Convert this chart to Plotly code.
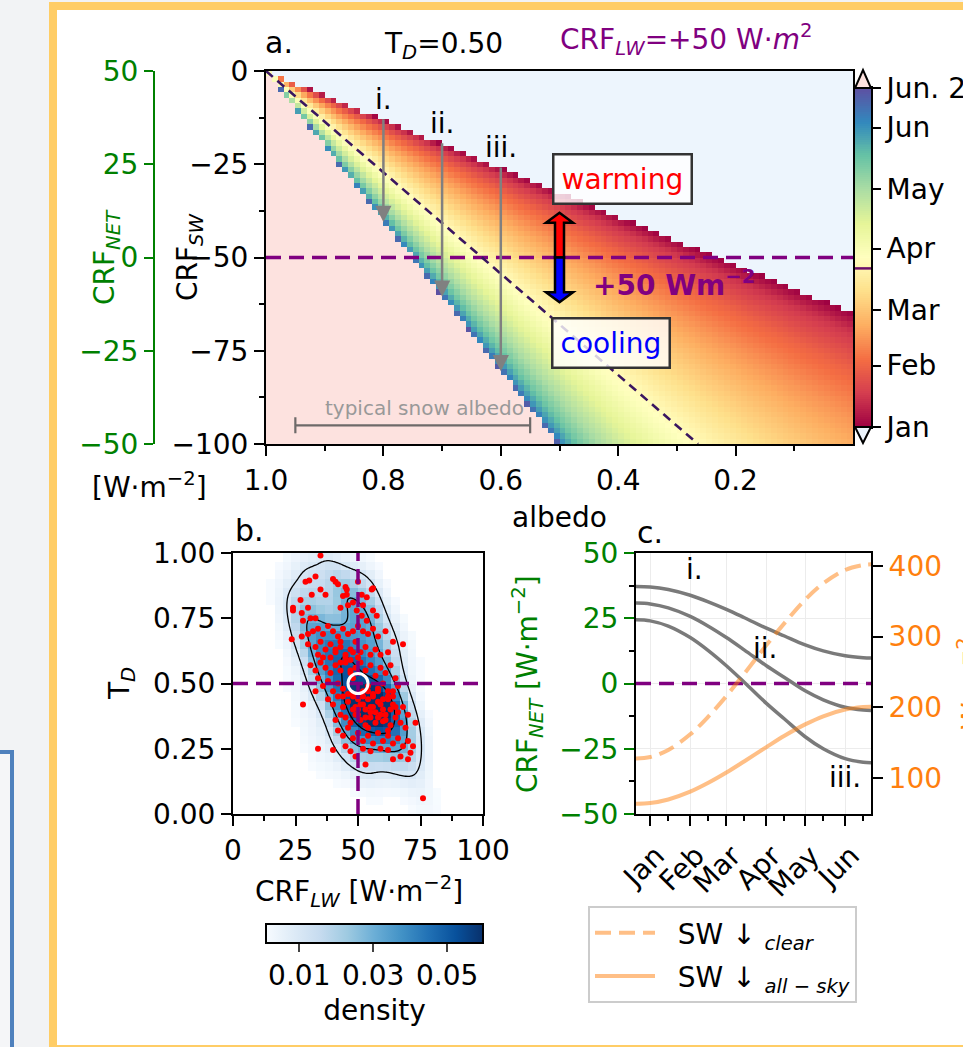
import numpy as np
import plotly.graph_objects as go

W, H = 963, 1047
FONT = "DejaVu Sans"
FS = 28


def fx(p):
    return p / W


def fy(p):
    return 1 - p / H


# ------------------------------------------------------------------ data
T_D = 0.50
CRF_LW = 50.0

# panel c : day of year (Dec 21 = -11 ... Jun 21 = 171)
DAYS = [-11, 0, 14, 31, 45, 59, 73, 90, 104, 120, 134, 151, 165, 171]
SW_CLEAR = [128, 130, 140, 162, 187, 216, 248, 288, 319, 352, 375, 394, 401, 402]
SW_ALLSKY = [64, 65, 70, 81, 93.5, 108, 124, 144, 160, 176, 187.5, 197, 200.5, 201]

MONTHS = ["Jan", "Feb", "Mar", "Apr", "May", "Jun"]
MONTH_START = [0, 31, 59, 90, 120, 151]
MONTH_MID = [14, 45, 73, 104, 134, 165]
CB_LABELS = ["Jan", "Feb", "Mar", "Apr", "May", "Jun", "Jun. 21"]
CB_DAYS = [0, 31, 59, 90, 120, 151, 171]
MARKED_DAY = 80

CASE_LABELS = ["i.", "ii.", "iii."]
CASE_ALBEDO = [0.8, 0.7, 0.6]
ARROW_START = [-12.5, -19.0, -25.5]
ARROW_END = [-40.5, -60.5, -80.5]
CASE_LABEL_DAY = [34, 89, 151]
CASE_LABEL_NET = [43.5, 13.6, -36.2]

ZERO_LINE_ALBEDO = [1.0, 0.264]
ZERO_LINE_CRF = [0.0, -100.0]
SNOW_ALBEDO = [0.55, 0.95]
SNOW_CRF = -95.0
FORCING_ALBEDO = 0.5
FORCING_TIPS = [-38.0, -62.0]

# panel b : individual samples (CRF_LW, T_D)
LW = [35, 29, 30.5, 33, 35, 31.5, 37, 24, 24, 27, 30, 27.5, 40, 41, 42, 45, 45.5, 50, 55.5, 56,
      51.5, 53.5, 45.5, 43, 46, 49.5, 56, 57.5, 51.5, 53.5, 28, 31, 33, 48, 44, 52,
      23.5, 27.5, 30, 32, 34, 36, 38, 40, 42, 44, 46, 48, 50, 52, 54, 56, 58, 61, 64, 30,
      33, 35, 37, 39, 41, 43, 45, 47, 49, 51, 53, 55, 57, 59, 62, 36, 34, 68,
      31, 33, 35, 37, 39, 41, 43, 45, 47, 49, 51, 53, 55, 57, 59, 61, 63, 65, 34, 36,
      38, 40, 42, 44, 46, 48, 52, 54, 56, 58, 60, 62, 64, 66, 33, 28,
      38, 40, 42, 44, 46, 48, 50, 52, 54, 56, 58, 60, 62, 64, 66, 68, 70, 45, 47, 49,
      51, 53, 55, 57, 59, 61, 63, 65, 67, 69, 43, 41, 50, 55, 60, 73,
      42, 44, 46, 48, 50, 52, 54, 56, 58, 60, 62, 64, 66, 68, 70, 72, 45, 47, 49, 52,
      55, 59, 62, 64, 67, 70, 71, 53, 40, 34, 76,
      48, 52, 56, 60, 53, 57, 61, 49, 53, 58,
      51, 55, 59, 63, 48, 47, 43, 45, 41, 43, 47, 54, 58, 62, 50,
      44, 54, 62, 65, 64, 48, 50, 39]
TD = [0.99, 0.89, 0.895, 0.91, 0.86, 0.84, 0.84, 0.79, 0.78, 0.82, 0.79, 0.77, 0.90, 0.89, 0.88, 0.87, 0.86, 0.89, 0.86, 0.865,
      0.84, 0.83, 0.84, 0.79, 0.80, 0.78, 0.78, 0.76, 0.76, 0.74, 0.74, 0.75, 0.75, 0.81, 0.835, 0.80,
      0.67, 0.68, 0.69, 0.70, 0.71, 0.69, 0.72, 0.70, 0.68, 0.71, 0.69, 0.70, 0.72, 0.70, 0.69, 0.71, 0.68, 0.70, 0.66, 0.65,
      0.64, 0.66, 0.63, 0.65, 0.62, 0.64, 0.61, 0.63, 0.66, 0.62, 0.64, 0.61, 0.63, 0.61, 0.62, 0.60, 0.61, 0.65,
      0.57, 0.55, 0.58, 0.56, 0.54, 0.57, 0.55, 0.58, 0.54, 0.56, 0.58, 0.55, 0.57, 0.53, 0.56, 0.54, 0.57, 0.52, 0.52, 0.49,
      0.51, 0.47, 0.50, 0.48, 0.46, 0.52, 0.47, 0.49, 0.46, 0.48, 0.50, 0.47, 0.45, 0.49, 0.47, 0.42,
      0.44, 0.42, 0.45, 0.41, 0.43, 0.40, 0.44, 0.42, 0.44, 0.41, 0.43, 0.40, 0.44, 0.42, 0.39, 0.41, 0.38, 0.37, 0.35, 0.38,
      0.36, 0.34, 0.37, 0.35, 0.38, 0.36, 0.34, 0.37, 0.35, 0.33, 0.38, 0.36, 0.40, 0.39, 0.355, 0.35,
      0.32, 0.30, 0.33, 0.29, 0.31, 0.28, 0.30, 0.27, 0.31, 0.28, 0.30, 0.27, 0.29, 0.26, 0.28, 0.26, 0.26, 0.24, 0.22, 0.25,
      0.24, 0.25, 0.245, 0.21, 0.22, 0.21, 0.235, 0.19, 0.245, 0.25, 0.06,
      0.45, 0.45, 0.45, 0.44, 0.40, 0.39, 0.38, 0.41, 0.37, 0.37,
      0.42, 0.41, 0.42, 0.40, 0.46, 0.55, 0.58, 0.60, 0.63, 0.66, 0.59, 0.47, 0.47, 0.45, 0.38,
      0.45, 0.33, 0.32, 0.41, 0.47, 0.62, 0.60, 0.60]

SPECTRAL = ["rgb(158,1,66)", "rgb(213,62,79)", "rgb(244,109,67)", "rgb(253,174,97)",
            "rgb(254,224,139)", "rgb(255,255,191)", "rgb(230,245,152)", "rgb(171,221,164)",
            "rgb(102,194,165)", "rgb(50,136,189)", "rgb(94,79,162)"]
UNDER = "rgb(237,245,253)"
OVER = "rgb(253,226,223)"
PURPLE = "#800080"
GREEN = "#008000"
ORANGE = "#ff7f0e"
ORANGE_A = "rgba(255,127,14,0.5)"

spec_scale = [[i / (len(SPECTRAL) - 1), c] for i, c in enumerate(SPECTRAL)]

# ------------------------------------------------ panel a field (derived)
alb = (np.arange(100) + 0.5) / 100
crf = -(np.arange(70) + 0.5) * 100 / 70
A_, C_ = np.meshgrid(alb, crf)
ratio = -C_ / ((1 - A_) * (1 - T_D))
sw_year = np.array(SW_CLEAR[1:], float)
day_year = np.array(DAYS[1:], float)
day_field = np.interp(ratio, sw_year, day_year)
in_band = (ratio >= sw_year[0]) & (ratio <= sw_year[-1])
z_main = np.where(in_band, day_field, np.nan)
z_bg = np.where(ratio < sw_year[0], 0.0, np.where(ratio > sw_year[-1], 1.0, np.nan))

# ------------------------------------------------ panel b density (KDE)
P = np.column_stack([LW, TD]).astype(float)
n = len(P)
cov = np.cov(P.T) * n ** (-1 / 3)
inv = np.linalg.inv(cov)
norm = 1 / (2 * np.pi * np.sqrt(np.linalg.det(cov))) / n


def kde(xs, ys):
    X, Y = np.meshgrid(xs, ys)
    G = np.stack([X.ravel(), Y.ravel()], 1)
    D = G[:, None, :] - P[None, :, :]
    q = np.einsum("gni,ij,gnj->gn", D, inv, D)
    return (np.exp(-0.5 * q).sum(1) * norm).reshape(X.shape)


hx = (np.arange(30) + 0.5) * 100 / 30
hy = (np.arange(30) + 0.5) / 30
dens = kde(hx, hy)
dens_plot = np.where(dens < 0.001, np.nan, dens)
cx = np.linspace(0, 100, 101)
cy = np.linspace(0, 1, 101)
dens_c = kde(cx, cy)

# ------------------------------------------------ panel c curves
crf_net = [[CRF_LW - (1 - a) * (c - s) for c, s in zip(SW_CLEAR, SW_ALLSKY)] for a in CASE_ALBEDO]

fig = go.Figure()
NOLEG = dict(showlegend=False)
TF = dict(family=FONT, size=FS, color="black")

# panel a
fig.add_trace(go.Heatmap(x=alb, y=crf, z=z_bg, colorscale=[[0, UNDER], [1, OVER]], zmin=0, zmax=1,
                         showscale=False, xaxis="x", yaxis="y", hoverinfo="skip", **NOLEG))
fig.add_trace(go.Heatmap(x=alb, y=crf, z=z_main, colorscale=spec_scale, zmin=0, zmax=171,
                         showscale=False, xaxis="x", yaxis="y", **NOLEG))
fig.add_trace(go.Scatter(x=[1, 0], y=[-CRF_LW, -CRF_LW], mode="lines",
                         line=dict(color=PURPLE, width=3.5, dash="15px,8px"),
                         xaxis="x", yaxis="y", **NOLEG))
fig.add_trace(go.Scatter(x=ZERO_LINE_ALBEDO, y=ZERO_LINE_CRF, mode="lines",
                         line=dict(color="#3a1660", width=2.6, dash="9px,6px"),
                         xaxis="x", yaxis="y", **NOLEG))
fig.add_trace(go.Scatter(x=[np.mean(SNOW_ALBEDO)], y=[SNOW_CRF], mode="markers",
                         marker=dict(size=1, color="rgba(0,0,0,0)"),
                         error_x=dict(type="data", array=[(SNOW_ALBEDO[1] - SNOW_ALBEDO[0]) / 2],
                                      color="rgba(85,85,85,0.85)", thickness=2.2, width=8),
                         xaxis="x", yaxis="y", **NOLEG))
fig.add_trace(go.Scatter(x=[None], y=[None], xaxis="x", yaxis="y2", **NOLEG))

# colour bar of panel a
cb_days = np.arange(171) + 0.5
fig.add_trace(go.Heatmap(x=[0.5], y=cb_days, z=cb_days.reshape(-1, 1), colorscale=spec_scale,
                         zmin=0, zmax=171, showscale=False, xaxis="x4", yaxis="y6", **NOLEG))

# panel b
fig.add_trace(go.Heatmap(x=hx, y=hy, z=dens_plot, colorscale="Blues", zmin=0.001, zmax=0.0597,
                         xaxis="x2", yaxis="y3", **NOLEG,
                         colorbar=dict(orientation="h", x=fx(266), xanchor="left", xref="paper",
                                       y=fy(924), yanchor="top", yref="paper",
                                       len=217, lenmode="pixels", thickness=19, thicknessmode="pixels",
                                       xpad=0, ypad=0, outlinewidth=2, outlinecolor="black",
                                       ticks="outside", ticklen=8, tickwidth=2,
                                       tickvals=[0.01, 0.03, 0.05], ticktext=["0.01", "0.03", "0.05"],
                                       tickfont=TF,
                                       title=dict(text="density", side="bottom", font=TF))))
fig.add_trace(go.Contour(x=cx, y=cy, z=dens_c, contours=dict(coloring="none", start=0.01, end=0.05, size=0.02),
                         line=dict(color="black", width=1.3), showscale=False, xaxis="x2", yaxis="y3",
                         hoverinfo="skip", **NOLEG))
fig.add_trace(go.Scatter(x=LW, y=TD, mode="markers", marker=dict(color="red", size=6),
                         xaxis="x2", yaxis="y3", **NOLEG))
fig.add_trace(go.Scatter(x=[CRF_LW, CRF_LW], y=[0, 1], mode="lines",
                         line=dict(color=PURPLE, width=3.5, dash="15px,8px"),
                         xaxis="x2", yaxis="y3", **NOLEG))
fig.add_trace(go.Scatter(x=[0, 100], y=[T_D, T_D], mode="lines",
                         line=dict(color=PURPLE, width=3.5, dash="15px,8px"),
                         xaxis="x2", yaxis="y3", **NOLEG))
fig.add_trace(go.Scatter(x=[CRF_LW], y=[T_D], mode="markers",
                         marker=dict(symbol="circle-open", size=20, color="white", line=dict(width=3)),
                         xaxis="x2", yaxis="y3", **NOLEG))

# panel c
fig.add_trace(go.Scatter(x=[DAYS[0], DAYS[-1]], y=[0, 0], mode="lines",
                         line=dict(color=PURPLE, width=3.5, dash="15px,8px"),
                         xaxis="x3", yaxis="y4", **NOLEG))
for curve in crf_net:
    fig.add_trace(go.Scatter(x=DAYS, y=curve, mode="lines", line=dict(color="#7a7a7a", width=3.5, shape="spline"),
                             xaxis="x3", yaxis="y4", **NOLEG))
fig.add_trace(go.Scatter(x=DAYS, y=SW_CLEAR, mode="lines", name="\u00a0\u00a0SW ↓ <sub><i>clear</i></sub>",
                         legendgroup="a",
                         line=dict(color=ORANGE_A, width=4, dash="16px,8px", shape="spline"),
                         xaxis="x3", yaxis="y5"))
fig.add_trace(go.Scatter(x=DAYS, y=SW_ALLSKY, mode="lines", name="\u00a0\u00a0SW ↓ <sub><i>all − sky</i></sub>",
                         legendgroup="b",
                         line=dict(color=ORANGE_A, width=4, shape="spline"),
                         xaxis="x3", yaxis="y5"))


def ax(**kw):
    base = dict(showline=True, linewidth=2, linecolor="black", ticks="outside", ticklen=10, tickwidth=2,
                tickcolor="black", showgrid=False, zeroline=False, automargin=False, tickfont=TF)
    base.update(kw)
    return base


def neg(v):
    return ("%g" % v).replace("-", "−")


minor = dict(ticks="outside", ticklen=5, tickwidth=2, tickcolor="black")
GF = dict(family=FONT, size=FS, color=GREEN)

layout = dict(
    width=W, height=H, margin=dict(l=0, r=0, t=0, b=0, pad=0, autoexpand=False),
    paper_bgcolor="#f2f3f5", plot_bgcolor="white",
    font=TF,
    xaxis=ax(domain=[fx(266), fx(853)], range=[1, 0], anchor="y", mirror=True,
             tickvals=[1.0, 0.8, 0.6, 0.4, 0.2], ticktext=["1.0", "0.8", "0.6", "0.4", "0.2"],
             minor=dict(tickvals=[0.9, 0.7, 0.5, 0.3, 0.1], **minor)),
    yaxis=ax(domain=[fy(444), fy(71)], range=[-100, 0], anchor="x", mirror=True,
             tickvals=[0, -25, -50, -75, -100], ticktext=[neg(v) for v in [0, -25, -50, -75, -100]],
             minor=dict(tickvals=[-12.5, -37.5, -62.5, -87.5], **minor)),
    yaxis2=ax(overlaying="y", anchor="free", position=fx(154), side="left", range=[-50, 50],
              linecolor=GREEN, tickcolor=GREEN, ticklen=9,
              tickvals=[50, 25, 0, -25, -50], ticktext=[neg(v) for v in [50, 25, 0, -25, -50]],
              tickfont=GF),
    xaxis2=ax(domain=[fx(233), fx(483)], range=[0, 100], anchor="y3", mirror=True,
              tickvals=[0, 25, 50, 75, 100], minor=dict(tickvals=[12.5, 37.5, 62.5, 87.5], **minor)),
    yaxis3=ax(domain=[fy(814), fy(553)], range=[0, 1], anchor="x2", mirror=True,
              tickvals=[0, 0.25, 0.5, 0.75, 1.0], ticktext=["0.00", "0.25", "0.50", "0.75", "1.00"]),
    xaxis3=ax(domain=[fx(636), fx(871)], range=[DAYS[0], DAYS[-1]], anchor="y4", mirror=True,
              tickvals=MONTH_START, ticktext=MONTHS, tickangle=-45, ticklabelshift=6, ticklabelstandoff=2,
              showgrid=True, gridcolor="#ececec", gridwidth=1,
              minor=dict(tickvals=MONTH_MID, **minor)),
    yaxis4=ax(domain=[fy(814), fy(553)], range=[-50, 50], anchor="x3", tickcolor=GREEN,
              tickvals=[50, 25, 0, -25, -50], ticktext=[neg(v) for v in [50, 25, 0, -25, -50]],
              tickfont=GF, showgrid=True, gridcolor="#ececec",
              minor=dict(tickvals=[37.5, 12.5, -12.5, -37.5], **minor)),
    yaxis5=ax(overlaying="y4", anchor="x3", side="right", range=[49.5, 418],
              tickvals=[100, 200, 300, 400], tickfont=dict(family=FONT, size=FS, color=ORANGE)),
    xaxis4=ax(domain=[fx(855), fx(871)], range=[0, 1], anchor="y6", mirror=True, ticks="",
              showticklabels=False),
    yaxis6=ax(domain=[fy(427), fy(88)], range=[0, 171], anchor="x4", side="right", mirror=True, ticklen=8,
              tickvals=CB_DAYS, ticktext=CB_LABELS),
    legend=dict(x=fx(588), y=fy(906), xanchor="left", yanchor="top", bgcolor="white",
                bordercolor="#cccccc", borderwidth=2, font=TF,
                tracegroupgap=4, itemwidth=60),
)
fig.update_layout(**layout)

# --------------------------------------------------------- page + shapes
shapes = [
    dict(type="rect", xref="paper", yref="paper", x0=fx(49), x1=fx(1100), y0=fy(2), y1=fy(1200),
         fillcolor="#ffcd66", line=dict(width=0), layer="below"),
    dict(type="rect", xref="paper", yref="paper", x0=fx(57), x1=fx(1100), y0=fy(10), y1=fy(1045),
         fillcolor="white", line=dict(width=0), layer="below"),
    dict(type="rect", xref="paper", yref="paper", x0=fx(-20), x1=fx(12), y0=fy(752), y1=fy(1200),
         fillcolor="#f5f6f8", line=dict(width=4, color="#4f81bd"), layer="below"),
    # colour-bar extension triangles
    dict(type="path", xref="paper", yref="paper",
         path=f"M{fx(855)},{fy(88)} L{fx(871)},{fy(88)} L{fx(863)},{fy(70)} Z",
         fillcolor=OVER, line=dict(color="black", width=2)),
    dict(type="path", xref="paper", yref="paper",
         path=f"M{fx(855)},{fy(427)} L{fx(871)},{fy(427)} L{fx(863)},{fy(443)} Z",
         fillcolor=UNDER, line=dict(color="black", width=2)),
    dict(type="line", xref="paper", yref="y6", x0=fx(855), x1=fx(871), y0=MARKED_DAY, y1=MARKED_DAY,
         line=dict(color="#6a0d6a", width=2.5)),
]
# forcing double arrow (data coordinates of panel a)
dxp = 1 / 587.0
dyp = 100 / 373.0
bw, hw, hl = 4.5 * dxp, 13.5 * dxp, 10 * dyp
for tip, col in zip(FORCING_TIPS, ["red", "blue"]):
    sgn = 1 if tip > -CRF_LW else -1
    base = -CRF_LW
    hb = tip - sgn * hl
    a0 = FORCING_ALBEDO
    pts = [(a0 - bw, base), (a0 - bw, hb), (a0 - hw, hb), (a0, tip), (a0 + hw, hb), (a0 + bw, hb), (a0 + bw, base)]
    path = "M" + " L".join(f"{x},{y}" for x, y in pts) + " Z"
    shapes.append(dict(type="path", xref="x", yref="y", path=path, fillcolor=col,
                       line=dict(color="black", width=2.5)))
fig.update_layout(shapes=shapes)

ann = []


def A(text, x, y, size=FS, color="black", xanchor="center", yanchor="middle", angle=0, **kw):
    d = dict(text=text, x=fx(x), y=fy(y), xref="paper", yref="paper", showarrow=False,
             font=dict(family=FONT, size=size, color=color), xanchor=xanchor, yanchor=yanchor,
             textangle=angle)
    d.update(kw)
    ann.append(d)


A("a.", 263, 42, size=30, xanchor="left")
A(f"T<sub><i>D</i></sub>={T_D:.2f}", 382, 45, xanchor="left")
A(f"CRF<sub><i>LW</i></sub>=+{CRF_LW:.0f} W·<i>m</i><sup>2</sup>", 558, 40, color=PURPLE, xanchor="left")
A("b.", 233, 530, size=30, xanchor="left")
A("c.", 635, 532, size=30, xanchor="left")
A("albedo", 559, 517)
A("[W·m<sup>−2</sup>]", 149, 486)
A("CRF<sub><i>SW</i></sub>", 189, 257, angle=-90)
A("CRF<sub><i>NET</i></sub>", 106, 257, color=GREEN, angle=-90)
A("T<sub><i>D</i></sub>", 121, 684, angle=-90)
A("CRF<sub><i>LW</i></sub> [W·m<sup>−2</sup>]", 359, 891)
A("CRF<sub><i>NET</i></sub> [W·m<sup>−2</sup>]", 527, 684, color=GREEN, angle=-90)
A("W·m<sup>−2</sup>", 970, 684, color=ORANGE, angle=-90)
A("warming", 622, 179, color="red", bgcolor="rgba(255,255,255,0.8)", bordercolor="#333333",
  borderwidth=2.5, borderpad=7)
A("cooling", 611, 343, color="blue", bgcolor="rgba(255,255,255,0.8)", bordercolor="#333333",
  borderwidth=2.5, borderpad=7)
A(f"<b>+{CRF_LW:.0f} Wm<sup>−2</sup></b>", 591, 283, color=PURPLE, xanchor="left")
A("typical snow albedo", 424, 408, size=20, color="#999999")

for lab, a, s, e in zip(CASE_LABELS, CASE_ALBEDO, ARROW_START, ARROW_END):
    ann.append(dict(x=a, y=e, ax=a, ay=s, xref="x", yref="y", axref="x", ayref="y", text="",
                    showarrow=True, arrowhead=2, arrowsize=1.3, arrowwidth=2.5, arrowcolor="#808080"))
    ann.append(dict(x=a, y=s, xref="x", yref="y", text=lab, showarrow=False, yanchor="bottom", yshift=0,
                    font=TF))
for lab, d, v in zip(CASE_LABELS, CASE_LABEL_DAY, CASE_LABEL_NET):
    ann.append(dict(x=d, y=v, xref="x3", yref="y4", text=lab, showarrow=False, font=TF))

fig.update_layout(annotations=ann)

fig.write_html("out.html", config={"displayModeBar": False},
               post_script="document.body.style.margin='0';document.body.style.overflow='hidden';")
